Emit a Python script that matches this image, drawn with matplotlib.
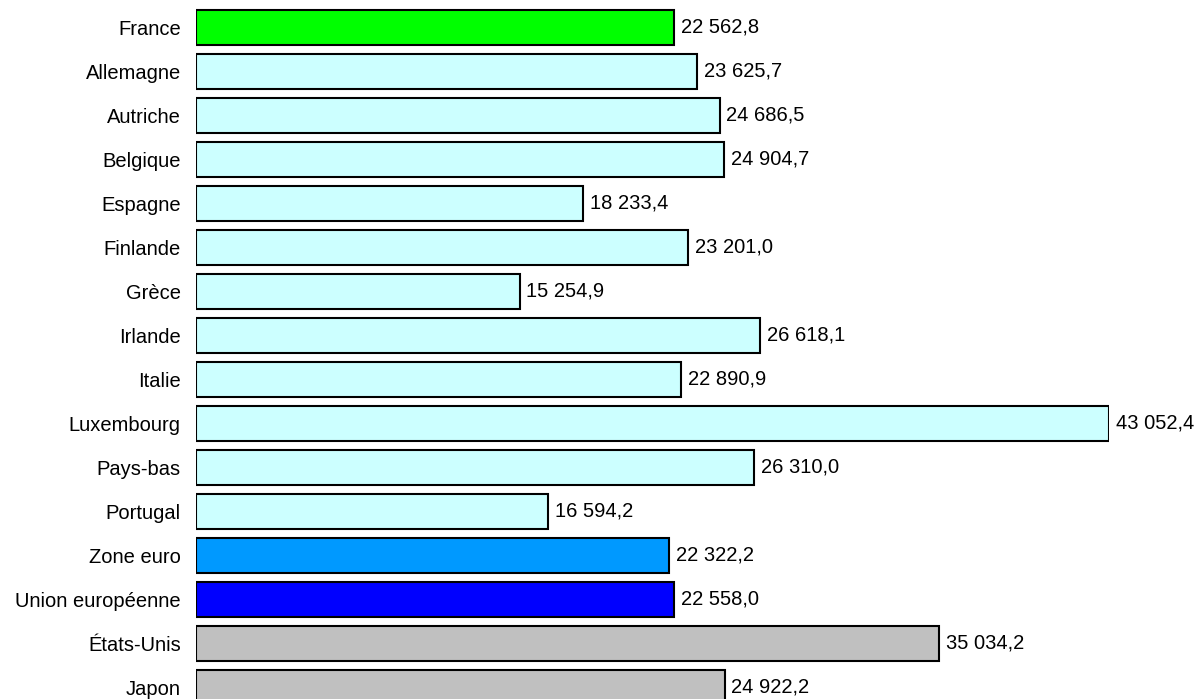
import matplotlib
matplotlib.use("Agg")
import matplotlib.pyplot as plt

categories = ["France", "Allemagne", "Autriche", "Belgique", "Espagne", "Finlande",
              "Grèce", "Irlande", "Italie", "Luxembourg", "Pays-bas", "Portugal",
              "Zone euro", "Union européenne", "États-Unis", "Japon"]
values = [22562.8, 23625.7, 24686.5, 24904.7, 18233.4, 23201.0, 15254.9, 26618.1,
          22890.9, 43052.4, 26310.0, 16594.2, 22322.2, 22558.0, 35034.2, 24922.2]
colors = ["#00FF00"] + ["#CCFFFF"] * 11 + ["#0099FF", "#0000FF", "#C0C0C0", "#C0C0C0"]

def fmt(v):
    s = f"{v:,.1f}"
    return s.replace(",", " ").replace(".", ",")

plt.rcParams['font.family'] = ['Liberation Sans', 'DejaVu Sans']

W, H = 1200, 699
fig = plt.figure(figsize=(W / 100, H / 100), dpi=100)
x0, x1 = 196, 1109
ax = fig.add_axes([x0 / W, 0, (x1 - x0) / W, 1])

spacing = 44.03
center0 = 27.5
ypos = list(range(len(categories)))
ax.barh(ypos, values, height=35 / spacing, color=colors, edgecolor="black", linewidth=1.5)
ax.set_xlim(0, max(values))
ax.set_ylim((H - center0) / spacing, -center0 / spacing)

for y, v in zip(ypos, values):
    ax.annotate(fmt(v), (v, y), xytext=(5, 0.5), textcoords="offset points",
                va="center", ha="left", fontsize=14.5, color="black", annotation_clip=False)

ax.set_yticks(ypos)
ax.set_yticklabels(categories, fontsize=14.5)
ax.tick_params(axis="y", length=0, pad=11)
ax.set_xticks([])
for s in ax.spines.values():
    s.set_visible(False)

fig.savefig("out.png", dpi=100)
